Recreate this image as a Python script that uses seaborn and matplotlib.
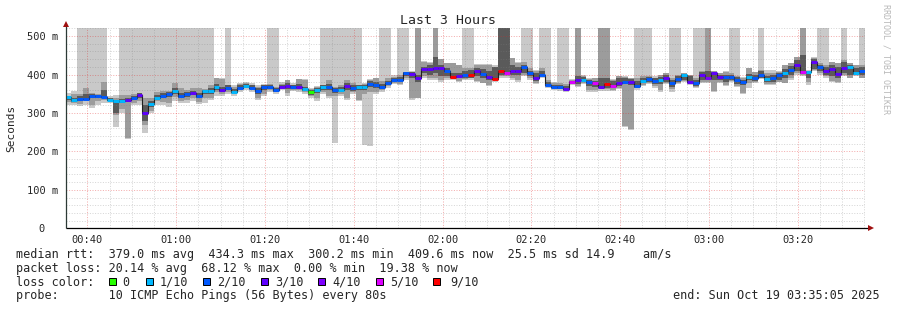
import numpy as np
import matplotlib
matplotlib.use("Agg")
import matplotlib.pyplot as plt
from matplotlib.patches import Rectangle
import seaborn as sns

# ---------------- data ----------------
T = None  # lost pings: smoke reaches the top of the graph

start_min = 35 + 5 / 60.0      # 00:35:05
step_min = 80 / 60.0           # one probe every 80 s
span_min = 180.0               # last 3 hours

median_ms = [
    341, 333, 337, 337, 344, 344, 342, 335, 330, 331, 334, 340, 347, 300, 323, 340, 345, 349, 357, 345,
    349, 352, 345, 357, 358, 367, 360, 366, 355, 366, 370, 366, 357, 367, 367, 359, 368, 371, 367, 368,
    362, 354, 361, 367, 367, 359, 360, 370, 364, 367, 367, 376, 373, 367, 378, 386, 387, 403, 401,
    390, 414, 414, 418, 418, 409, 394, 396, 400, 399, 409, 401, 394, 388, 409, 403, 409, 409, 419, 403,
    390, 399, 374, 367, 367, 362, 380, 387, 387, 381, 377, 368, 375, 371, 377, 380, 380, 371, 383,
    388, 383, 386, 390, 377, 388, 399, 381, 377, 399, 392, 403, 394, 394, 394, 387, 380, 394, 392, 399,
    388, 390, 399, 405, 413, 426, 406, 407, 433, 419, 410, 414, 401, 418, 419, 405, 409,
]
lost_pings = [
    1, 1, 2, 2, 2, 2, 2, 1, 1, 1, 3, 2, 3, 3, 1, 1, 2, 2, 1, 2,
    2, 3, 2, 1, 1, 1, 3, 2, 1, 2, 1, 2, 2, 2, 2, 2, 3, 3, 2, 3,
    1, 0, 1, 1, 2, 2, 1, 3, 2, 1, 1, 2, 2, 2, 2, 2, 2, 2, 3,
    3, 3, 3, 3, 3, 2, 7, 3, 2, 7, 3, 2, 3, 7, 7, 5, 3, 3, 2, 2,
    3, 2, 2, 2, 2, 3, 5, 3, 1, 2, 5, 3, 7, 5, 3, 2, 3, 2, 1,
    2, 2, 1, 3, 2, 2, 1, 3, 2, 3, 4, 3, 3, 2, 2, 2, 2, 1, 2, 2,
    1, 2, 2, 1, 2, 3, 5, 1, 3, 2, 3, 3, 3, 3, 1, 1, 2,
]
# outer smoke (min .. max ping)
smoke1_lo = [
    322, 322, 318, 322, 314, 320, 325, 327, 264, 300, 233, 320, 322, 249, 300, 321, 320, 316, 330, 327,
    325, 330, 323, 325, 334, 345, 345, 350, 345, 355, 360, 355, 333, 345, 355, 350, 360, 345, 358, 355,
    350, 340, 331, 350, 340, 221, 345, 334, 350, 331, 217, 213, 350, 355, 365, 375, 372, 385, 335,
    338, 390, 385, 385, 380, 385, 385, 380, 385, 385, 380, 377, 371, 380, 392, 390, 385, 380, 395, 385,
    375, 392, 365, 360, 358, 355, 372, 368, 375, 355, 355, 358, 358, 358, 362, 264, 255, 360, 370,
    375, 365, 355, 375, 355, 375, 380, 372, 365, 378, 378, 355, 378, 370, 380, 368, 350, 364, 378, 388,
    372, 373, 380, 377, 385, 400, 395, 373, 410, 400, 392, 380, 378, 395, 390, 395, 390,
]
smoke1_hi = [
    351, 356, T, T, T, T, T, 345, 347, T, T, T, T, T, T, T, T, T, T, T,
    T, T, T, T, T, 390, 390, T, 372, 378, 380, 378, 372, 375, T, T, 380, 386, 378, 388,
    388, 365, 370, T, T, T, T, T, T, T, 378, 388, 392, T, T, 398, T, T, 410,
    T, 436, 432, T, 440, 430, 430, 425, T, T, 428, 428, 428, 425, T, T, 442, 432, T, T,
    412, T, T, 380, T, T, 388, T, 398, 390, 390, T, T, 388, 397, 395, 392, T, T,
    T, 397, 400, 405, T, T, 405, 400, T, T, T, 410, 405, 410, T, T, 393, 416, 406, T,
    412, 412, 410, 426, 430, 446, T, 412, 445, T, T, 432, 429, T, 429, 426, T,
]
# middle smoke
smoke2_lo = [
    328, 326, 324, 330, 320, 330, 334, 330, 295, 310, 235, 326, 330, 269, 306, 330, 328, 327, 342, 330,
    335, 340, 328, 340, 338, 355, 350, 355, 350, 360, 364, 360, 340, 350, 360, 355, 362, 352, 360, 360,
    354, 343, 338, 355, 345, 343, 349, 340, 355, 333, 350, 355, 355, 360, 370, 378, 376, 390, 340,
    340, 395, 390, 390, 385, 390, 388, 382, 388, 390, 382, 377, 372, 385, 395, 395, 390, 385, 400, 390,
    378, 395, 368, 362, 362, 358, 375, 370, 378, 360, 360, 362, 362, 360, 365, 267, 258, 365, 374,
    378, 370, 360, 378, 362, 378, 382, 375, 368, 381, 381, 357, 381, 373, 382, 370, 351, 377, 381, 390,
    375, 376, 381, 377, 390, 405, 400, 380, 412, 405, 395, 383, 380, 399, 392, 398, 392,
]
smoke2_hi = [
    345, 350, 349, 364, 352, 350, 381, 340, 340, 347, 347, 350, 353, 338, 338, 355, 356, 356, 377, 364,
    360, 364, 364, 362, 373, 390, 388, 373, 368, 375, 378, 373, 368, 373, 375, 368, 375, 386, 373, 388,
    386, 362, 367, 374, 386, 368, 374, 386, 377, 373, 375, 386, 390, 383, 390, 394, 399, 407, 407,
    T, 432, 430, T, 440, 429, 429, 425, 416, 416, 426, 426, 424, 420, T, T, 442, 429, 432, 416,
    410, 416, 385, 378, 378, 376, 386, T, 396, 388, 390, T, T, 386, 397, 394, 390, 390, 396,
    395, 392, 398, 403, 390, 400, 403, 400, 390, 410, T, 408, 403, 407, 403, 395, 390, 416, 406, 412,
    404, 405, 407, 425, 429, 446, T, 410, 442, 429, 425, 432, 429, 438, 429, 425, 425,
]
# inner (dark) smoke
smoke3_lo = [
    335, 329, 332, 334, 338, 338, 338, 332, 300, 325, 328, 335, 340, 280, 315, 335, 338, 342, 350, 340,
    342, 346, 340, 350, 350, 360, 355, 360, 352, 362, 366, 362, 350, 360, 362, 355, 364, 362, 362, 362,
    357, 348, 352, 360, 360, 352, 355, 360, 358, 360, 360, 368, 366, 362, 372, 380, 382, 396, 390,
    380, 405, 400, 405, 395, 395, 390, 390, 392, 392, 395, 392, 385, 388, 400, 398, 400, 400, 405, 395,
    382, 396, 370, 364, 363, 360, 377, 375, 382, 370, 368, 364, 365, 364, 370, 375, 372, 366, 378,
    380, 375, 375, 380, 368, 380, 385, 377, 370, 385, 385, 385, 385, 380, 386, 375, 372, 385, 384, 392,
    380, 380, 385, 390, 400, 408, 402, 390, 415, 408, 398, 395, 390, 405, 400, 400, 398,
]
smoke3_hi = [
    344, 340, 345, 350, 349, 348, 360, 338, 335, 336, 340, 345, 352, 320, 330, 347, 352, 355, 365, 352,
    355, 358, 352, 360, 365, 375, 368, 372, 362, 372, 376, 372, 365, 372, 372, 365, 374, 378, 372, 375,
    368, 360, 366, 372, 375, 366, 368, 378, 372, 372, 372, 382, 380, 376, 384, 392, 394, 406, 406,
    400, 420, 425, 446, 425, 418, 405, 405, 410, 412, 418, 415, 410, 420, T, T, 425, 420, 425, 410,
    405, 410, 380, 373, 373, 370, 384, 397, 393, 386, 384, 390, 390, 382, 390, 390, 388, 384, 390,
    394, 390, 394, 398, 386, 396, 402, 396, 386, 406, 408, 406, 400, 400, 400, 393, 386, 402, 400, 408,
    395, 398, 405, 415, 422, 438, 451, 409, 440, 425, 420, 425, 420, 432, 425, 418, 420,
]

loss_thresholds = [0, 1, 2, 3, 4, 5, 9]
loss_labels = ["0", "1/10", "2/10", "3/10", "4/10", "5/10", "9/10"]
loss_colors = ["#26ff00", "#00b8ff", "#0059ff", "#5e00ff", "#7e00ff", "#dd00ff", "#ff0000"]

x_tick_minutes = [40, 60, 80, 100, 120, 140, 160, 180, 200]
x_tick_labels = ["00:40", "01:00", "01:20", "01:40", "02:00", "02:20", "02:40", "03:00", "03:20"]
y_tick_values = [0, 100, 200, 300, 400, 500]
y_tick_labels = ["0  ", "100 m", "200 m", "300 m", "400 m", "500 m"]

title = "Last 3 Hours"
legend_lines = [
    "median rtt:  379.0 ms avg  434.3 ms max  300.2 ms min  409.6 ms now  25.5 ms sd 14.9    am/s",
    "packet loss: 20.14 % avg  68.12 % max  0.00 % min  19.38 % now",
    "loss color:",
    "probe:       10 ICMP Echo Pings (56 Bytes) every 80s",
]
end_text = "end: Sun Oct 19 03:35:05 2025"

# ---------------- figure ----------------
W, H = 897, 310
sns.set_style("white")
plt.rcParams["font.family"] = ["DejaVu Sans Mono", "DejaVu Sans"]

fig = plt.figure(figsize=(W / 100, H / 100), dpi=100, facecolor="white")
X0, X1, Y0, Y1 = 65.5, 864.7, 228.3, 28.0   # plot box in pixels
ax = fig.add_axes([X0 / W, 1 - Y0 / H, (X1 - X0) / W, (Y0 - Y1) / H])
ax.set_facecolor("white")
YMAX = 521.0
ax.set_xlim(start_min, start_min + span_min)
ax.set_ylim(0, YMAX)

n = len(median_ms)
starts = start_min + step_min * np.arange(n)
med = np.array(median_ms, float)
loss = np.array(lost_pings, float)


def arr(v):
    a = np.array([np.nan if x is None else x for x in v], float)
    return np.where(np.isnan(a), YMAX + 50, a)


bands = [(smoke1_lo, smoke1_hi, "#c9c9c9"),
         (smoke2_lo, smoke2_hi, "#9c9c9c"),
         (smoke3_lo, smoke3_hi, "#5a5a5a")]
for lo, hi, col in bands:
    lo_a, hi_a = arr(lo), arr(hi)
    ax.bar(starts, hi_a - lo_a, bottom=lo_a, width=step_min, align="edge",
           color=col, linewidth=0, zorder=1, antialiased=False)

# grid (dotted, drawn over the smoke, like rrdtool)
minor_col = (0.5, 0.5, 0.5, 0.32)
major_col = (0.88, 0.15, 0.15, 0.38)
dots = (0, (1, 1.6))
gkw = dict(lw=0.72, ls=dots, zorder=2)
for m in np.arange(40, start_min + span_min, 5):
    if m % 20 != 0:
        ax.axvline(m, color=minor_col, **gkw)
for m in x_tick_minutes:
    ax.axvline(m, color=major_col, **gkw)
for v in np.arange(20, YMAX, 20):
    if v % 100 != 0:
        ax.axhline(v, color=minor_col, **gkw)
for v in y_tick_values[1:]:
    ax.axhline(v, color=major_col, **gkw)

# median: black step line and loss-coloured segments
xs = np.append(starts, starts[-1] + step_min)
ys = np.append(med, med[-1])
sns.lineplot(x=xs, y=ys, drawstyle="steps-post", color="#202020", lw=0.8,
             ax=ax, estimator=None, sort=False, zorder=3)


def loss_color(l):
    last = -1
    for t, c in zip(loss_thresholds, loss_colors):
        if last < l <= t or (t == 0 and l == 0):
            return c
        last = t
    return loss_colors[-1]


seg_cols = [loss_color(l) for l in loss]
ax.hlines(med, starts, starts + step_min, colors=seg_cols, lw=2.1, zorder=4, capstyle="butt")

# axes, ticks
for s in ax.spines.values():
    s.set_visible(False)
axis_col = "#2c3a36"
px_min = (X1 - X0) / span_min
px_ms = (Y0 - Y1) / YMAX
ax.plot([start_min, start_min], [0, (Y0 - 24) / px_ms], color=axis_col, lw=0.9,
        clip_on=False, zorder=5, solid_capstyle="butt")
ax.plot([start_min, start_min + (869 - X0) / px_min], [0, 0], color="black", lw=0.9,
        clip_on=False, zorder=5, solid_capstyle="butt")
ax.plot([start_min], [(Y0 - 23.5) / px_ms], marker="^", color="#a01010", ms=4.2,
        clip_on=False, zorder=6, mew=0)
ax.plot([start_min + (871 - X0) / px_min], [0], marker=">", color="#a01010", ms=4.2,
        clip_on=False, zorder=6, mew=0)

ax.set_xticks(x_tick_minutes)
ax.set_xticklabels(x_tick_labels)
ax.set_yticks(y_tick_values)
ax.set_yticklabels(y_tick_labels)
ax.tick_params(axis="x", length=2, width=0.7, color="#555555", pad=2.5, labelsize=7.5, direction="out")
ax.tick_params(axis="y", length=2, width=0.7, color="#555555", pad=3.5, labelsize=7.5, direction="out")
ax.grid(False)

# texts
fig.text(448 / W, 1 - 24 / H, title, ha="center", va="baseline", fontsize=9.5)
fig.text(11 / W, 1 - 128 / H, "Seconds", rotation=90, ha="center", va="center", fontsize=8)
fig.text(886 / W, 1 - 4 / H, "RRDTOOL / TOBI OETIKER", rotation=270, ha="center", va="top",
         fontsize=6, color="#b8b8b8")

base = [258.3, 271.7, 285.7, 299.3]
for line, b in zip(legend_lines, base):
    fig.text(15.5 / W, 1 - b / H, line, ha="left", va="baseline", fontsize=8.5)
fig.text(880 / W, 1 - base[3] / H, end_text, ha="right", va="baseline", fontsize=8.5)

box_x = [108.7, 146, 203.3, 261, 318.3, 375.7, 433.3]
lab_x = [122.7, 160, 217.3, 275, 332.3, 390, 450]
for bx, lx, c, lab in zip(box_x, lab_x, loss_colors, loss_labels):
    fig.add_artist(Rectangle((bx / W, 1 - 285 / H), 7 / W, 7 / H, transform=fig.transFigure,
                             facecolor=c, edgecolor="black", lw=0.7))
    fig.text(lx / W, 1 - base[2] / H, lab, ha="left", va="baseline", fontsize=8.5)

fig.savefig("out.png", dpi=100, facecolor="white")
